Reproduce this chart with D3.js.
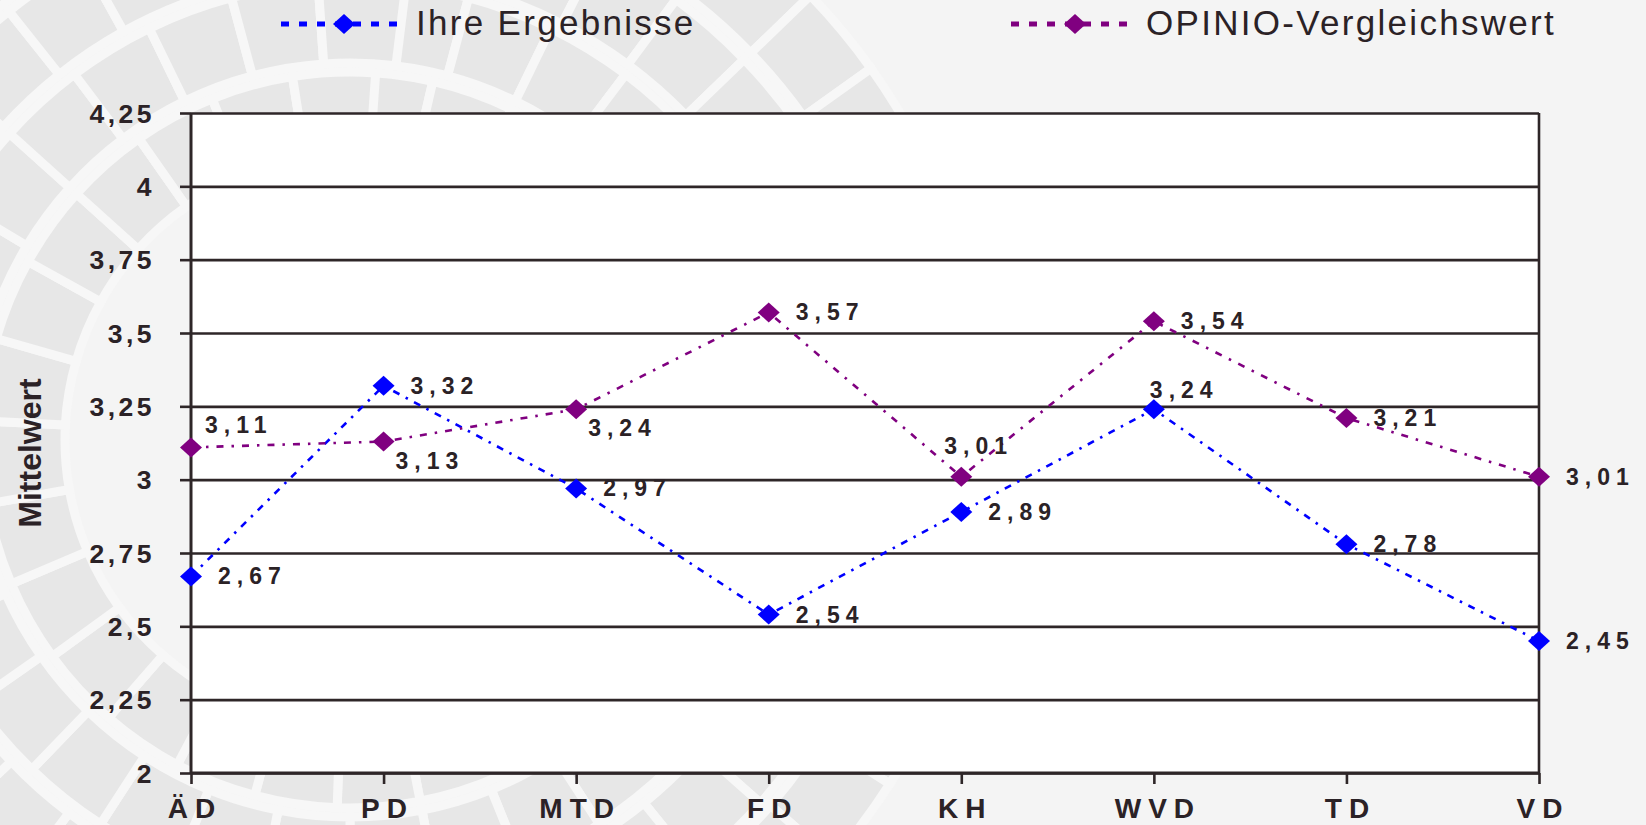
<!DOCTYPE html>
<html><head><meta charset="utf-8">
<script src="https://cdn.jsdelivr.net/npm/d3@7"></script>
<style>
html,body{margin:0;padding:0;background:#f4f4f4;}
svg{display:block;}
</style></head>
<body>
<svg id="c" width="1646" height="825"></svg>
<script>
// ---- data ----
const categories = ["ÄD","PD","MTD","FD","KH","WVD","TD","VD"];
const seriesNames = ["Ihre Ergebnisse","OPINIO-Vergleichswert"];
const ihreErgebnisse = [2.67,3.32,2.97,2.54,2.89,3.24,2.78,2.45];
const opinioVergleich = [3.11,3.13,3.24,3.57,3.01,3.54,3.21,3.01];
const tickValues = [2,2.25,2.5,2.75,3,3.25,3.5,3.75,4,4.25];
const tickLabels = ["2","2,25","2,5","2,75","3","3,25","3,5","3,75","4","4,25"];
const yTitle = "Mittelwert";
// label placement codes per point
const ihrePlacement = ["r","r","r","r","r","al","r","r"];
const opinioPlacement = ["ar","br","br","r","a","r","r","r"];

// ---- layout / styles ----
const W=1646,H=825;
const M={l:191,r:1539,t:113,b:773};
const ink="#2b2226";
const gridC="#2e2628";
const placeOff={r:[27,8],ar:[14,-14],br:[12,27],a:[-17,-23],al:[-4,-11]};

const svg=d3.select("#c");

// background decorative pattern (concentric tile rings)
const bg=svg.append("g");
bg.append("rect").attr("width",W).attr("height",H).attr("fill","#f4f4f4");
const rings=[[285,368],[377,458],[467,548],[557,640]];
const steps=[13,11,9.5,8.5];
const arcGen=d3.arc();
rings.forEach((rg,ri)=>{
  const step=steps[ri];
  for(let a=0;a<360;a+=step){
    const s=a+ri*4;
    bg.append("path")
      .attr("transform","translate(350,440)")
      .attr("d",arcGen({innerRadius:rg[0],outerRadius:rg[1],startAngle:s*Math.PI/180,endAngle:(s+step)*Math.PI/180}))
      .attr("fill","#e7e7e7").attr("stroke","#f7f7f7").attr("stroke-width",9);
  }
});

const x=d3.scalePoint().domain(categories).range([M.l,M.r]).padding(0);
const y=d3.scaleLinear().domain([2,4.25]).range([M.b,M.t]);

// plot area
svg.append("rect").attr("x",M.l).attr("y",M.t).attr("width",M.r-M.l).attr("height",M.b-M.t).attr("fill","#fff");

// gridlines
const grid=svg.append("g").attr("transform",`translate(${M.l},0)`)
  .call(d3.axisLeft(y).tickValues(tickValues).tickSize(-(M.r-M.l)).tickFormat(""));
grid.select(".domain").remove();
grid.selectAll("line").attr("stroke",gridC).attr("stroke-width",2.6);

// y axis
const ya=svg.append("g").attr("transform",`translate(${M.l},0)`)
  .call(d3.axisLeft(y).tickValues(tickValues).tickSize(11).tickPadding(0).tickFormat((d,i)=>tickLabels[i]));
ya.select(".domain").attr("stroke",gridC).attr("stroke-width",3).attr("d",`M0,${M.t}V${M.b}`);
ya.selectAll("line").attr("stroke",gridC).attr("stroke-width",2.6);
ya.selectAll("text").attr("x",-36).attr("dy","0.35em").attr("fill",ink)
  .style("font-family","'Liberation Sans',Arial,sans-serif").style("font-weight","bold")
  .style("font-size","26.5px").style("letter-spacing","3.5px");

// right border
svg.append("line").attr("x1",M.r).attr("x2",M.r).attr("y1",M.t).attr("y2",M.b)
  .attr("stroke",gridC).attr("stroke-width",2.6);

// x axis
const xa=svg.append("g").attr("transform",`translate(0,${M.b})`)
  .call(d3.axisBottom(x).tickSize(11).tickPadding(0));
xa.select(".domain").attr("stroke",gridC).attr("stroke-width",3).attr("d",`M${M.l},0H${M.r}`);
xa.selectAll("line").attr("stroke",gridC).attr("stroke-width",2.6);
xa.selectAll("text").attr("y",45).attr("dy",0).attr("dx","3.5px").attr("fill",ink)
  .style("font-family","'Liberation Sans',Arial,sans-serif").style("font-weight","bold")
  .style("font-size","28px").style("letter-spacing","7px");

// y title
svg.append("text").attr("transform",`translate(41,${(M.t+M.b)/2+10}) rotate(-90)`)
  .attr("text-anchor","middle").attr("fill",ink)
  .style("font-family","'Liberation Sans',Arial,sans-serif").style("font-weight","bold")
  .style("font-size","32px").text(yTitle);

const diamond="M0,-10L11,0L0,10L-11,0Z";
const series=[
  {name:seriesNames[0],vals:ihreErgebnisse,color:"#0000ff",dash:"7,7,2.5,7",place:ihrePlacement},
  {name:seriesNames[1],vals:opinioVergleich,color:"#800080",dash:"7,8,2.5,8",place:opinioPlacement}
];
const line=d3.line().x((d,i)=>x(categories[i])).y(d=>y(d));

series.forEach(s=>{
  svg.append("path").attr("d",line(s.vals)).attr("fill","none")
    .attr("stroke",s.color).attr("stroke-width",2.6).attr("stroke-dasharray",s.dash);
});
series.forEach(s=>{
  svg.append("g").selectAll("path").data(s.vals).join("path")
    .attr("transform",(d,i)=>`translate(${x(categories[i])},${y(d)})`)
    .attr("d",diamond).attr("fill",s.color);
});
series.forEach(s=>{
  svg.append("g").selectAll("text").data(s.vals).join("text")
    .attr("x",(d,i)=>x(categories[i])+placeOff[s.place[i]][0])
    .attr("y",(d,i)=>y(d)+placeOff[s.place[i]][1])
    .attr("fill",ink)
    .style("font-family","'Liberation Sans',Arial,sans-serif").style("font-weight","bold")
    .style("font-size","23px").style("letter-spacing","6px")
    .text(d=>d.toFixed(2).replace(".",","));
});

// legend
const legendPos=[{x1:281,x2:407,xm:344,tx:416},{x1:1011,x2:1136,xm:1075,tx:1146}];
series.forEach((s,i)=>{
  const p=legendPos[i];
  const g=svg.append("g");
  g.append("line").attr("x1",p.x1).attr("x2",p.x2).attr("y1",24).attr("y2",24)
    .attr("stroke",s.color).attr("stroke-width",5).attr("stroke-dasharray","8,10");
  g.append("path").attr("transform",`translate(${p.xm},24)`).attr("d",diamond).attr("fill",s.color);
  g.append("text").attr("x",p.tx).attr("y",35).attr("fill",ink)
    .style("font-family","'Liberation Sans',Arial,sans-serif")
    .style("font-size","35px").style("letter-spacing","2.3px").text(s.name);
});
</script>
</body></html>
